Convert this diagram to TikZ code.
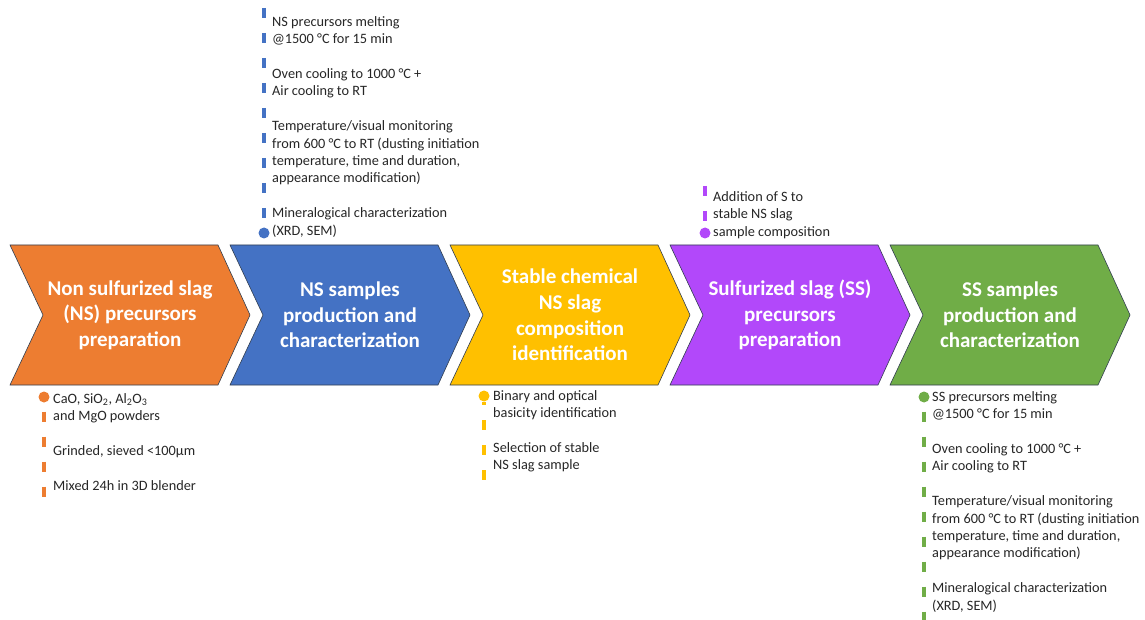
\documentclass[tikz,border=0pt]{standalone}
\usepackage{fontspec}
\setmainfont{Carlito}
\usetikzlibrary{positioning}
\definecolor{nsorange}{RGB}{237,125,49}
\definecolor{nsblue}{RGB}{68,114,196}
\definecolor{stableyellow}{RGB}{255,192,0}
\definecolor{sspurple}{RGB}{178,72,250}
\definecolor{ssgreen}{RGB}{112,173,71}
\definecolor{edgegray}{RGB}{50,62,80}
\definecolor{notegray}{RGB}{38,38,38}
\tikzset{
  % text inside the chevrons
  steplabel/.style={align=center, text=white, inner sep=0pt,
    font=\fontsize{21}{25.6}\selectfont\bfseries},
  % side notes
  note/.style={align=left, anchor=north west, inner sep=0pt, text=notegray,
    font=\fontsize{14.3}{17.4}\selectfont},
  % bullet dot
  bullet/.style={circle, fill=#1, inner sep=0pt, minimum size=11pt},
  % dashed guide line
  guide/.style={draw=#1, line width=3.6pt, dash pattern=on 10pt off 15pt},
}
\begin{document}
\begin{tikzpicture}[x=1pt, y=-1pt]
  \useasboundingbox (0,0) rectangle (1145,620);

  % Chevrons
  \foreach \col [count=\i from 0] in {nsorange,nsblue,stableyellow,sspurple,ssgreen}{
    \pgfmathsetmacro\xa{10+220*\i}
    \draw[edgegray, line width=0.6pt, fill=\col]
      (\xa,245) -- ++(208,0) -- ++(32,70) -- ++(-32,70) -- ++(-208,0) -- ++(33,-70) -- cycle;
  }

  % Chevron labels
  \node[steplabel] (nsprep) at (130,315) {Non sulfurized slag\\(NS) precursors\\preparation};
  \node[steplabel] (nsprod) at (350,315) {NS samples\\production and\\characterization};
  \node[steplabel] (stable) at (570,315) {Stable chemical\\NS slag\\composition\\identification};
  \node[steplabel] (ssprep) at (790,315) {Sulfurized slag (SS)\\precursors\\preparation};
  \node[steplabel] (ssprod) at (1010,315) {SS samples\\production and\\characterization};

  % Notes above
  \node[note] (nsnote) at (272,14) {\strut NS precursors melting\\@1500 °C for 15 min\\[17.4pt]
    Oven cooling to 1000 °C +\\Air cooling to RT\\[17.4pt]
    Temperature/visual monitoring\\from 600 °C to RT (dusting initiation\\temperature, time and duration,\\appearance modification)\\[17.4pt]
    Mineralogical characterization\\(XRD, SEM)};
  \node[note] (addnote) at (713,189) {\strut Addition of S to\\stable NS slag\\sample composition};

  % Notes below
  \node[note] (prepnote) at (53,391) {\strut CaO, SiO\textsubscript{2}, Al\textsubscript{2}O\textsubscript{3}\\and MgO powders\\[17.4pt]
    Grinded, sieved <100µm\\[17.4pt]
    Mixed 24h in 3D blender};
  \node[note] (stablenote) at (493,388) {\strut Binary and optical\\basicity identification\\[17.4pt]
    Selection of stable\\NS slag sample};
  \node[note] (ssnote) at (932,389) {\strut SS precursors melting\\@1500 °C for 15 min\\[17.4pt]
    Oven cooling to 1000 °C +\\Air cooling to RT\\[17.4pt]
    Temperature/visual monitoring\\from 600 °C to RT (dusting initiation\\temperature, time and duration,\\appearance modification)\\[17.4pt]
    Mineralogical characterization\\(XRD, SEM)};

  % Dots and guides
  \coordinate (nstop) at (264,8);
  \node[bullet=nsblue] (nsdot) at (264,233) {};
  \draw[guide=nsblue] (nstop) -- (nsdot);

  \coordinate (addtop) at (705,186);
  \node[bullet=sspurple] (adddot) at (705,233) {};
  \draw[guide=sspurple] (addtop) -- (adddot);

  \node[bullet=nsorange] (prepdot) at (44,397) {};
  \coordinate (prepend) at (44,498);
  \draw[guide=nsorange, dash phase=16pt] (prepdot) -- (prepend);

  \node[bullet=stableyellow] (stabledot) at (484,396) {};
  \coordinate (stableend) at (484,483);
  \draw[guide=stableyellow, dash phase=6.5pt] (stabledot) -- (stableend);

  \node[bullet=ssgreen] (ssdot) at (924,397) {};
  \coordinate (ssend) at (924,620);
  \draw[guide=ssgreen, dash phase=16pt] (ssdot) -- (ssend);
\end{tikzpicture}
\end{document}
